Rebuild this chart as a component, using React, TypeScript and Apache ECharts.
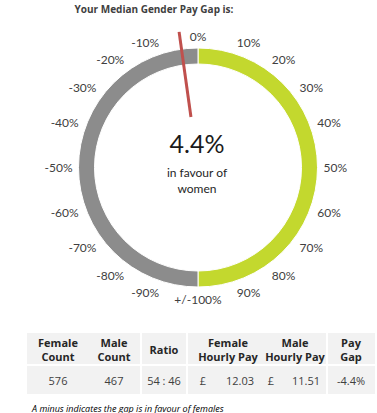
import React, { useEffect, useRef } from "react";
import * as echarts from "echarts";

// ---- data ----
const titleText = "Your Median Gender Pay Gap is:";
const payGap = -4.4; // percent, negative = in favour of women
const gaugeSegments = [
  { name: "positive", value: 100, color: "#c3d82e" },
  { name: "negative", value: 100, color: "#8c8c8c" },
];
const tableHeaders = ["Female\nCount", "Male\nCount", "Ratio", "Female\nHourly Pay", "Male\nHourly Pay", "Pay\nGap"];
const femaleCount = 576;
const maleCount = 467;
const ratioText = "54 : 46";
const femaleHourlyPay = 12.03;
const maleHourlyPay = 11.51;
const footnote = "A minus indicates the gap is in favour of females";

const CX = 198;
const CY = 167.5;
const R_OUT = 119.5;
const R_IN = 103.5;

function tickLabel(v: number): string {
  if (v === 0) return "0%";
  if (v === 200) return "";
  if (v === 100) return "+/-100%";
  if (v < 100) return v + "%";
  return -(200 - v) + "%";
}

export default function App() {
  const ref = useRef<HTMLDivElement>(null);
  useEffect(() => {
    if (!ref.current) return;
    const chart = echarts.init(ref.current, undefined, { renderer: "svg" });
    const gaugeValue = payGap < 0 ? 200 + payGap : payGap;
    const labelFont = "Lato";
    const tblFont = "Open Sans";

    // table geometry
    const top = 333, headH = 31, rowTop = 366, rowH = 28;
    const blocks = [
      [27, 140],
      [142, 186],
      [188, 326],
      [328, 375],
    ];
    const colCenters = [58, 114, 164, 228, 295, 351];
    const graphics: any[] = [];
    blocks.forEach(([x0, x1]) => {
      graphics.push({ type: "rect", shape: { x: x0, y: top, width: x1 - x0, height: headH }, style: { fill: "#f2f2f2" }, silent: true });
      graphics.push({ type: "rect", shape: { x: x0, y: rowTop, width: x1 - x0, height: rowH }, style: { fill: "#f2f2f2" }, silent: true });
    });
    tableHeaders.forEach((h, i) => {
      graphics.push({
        type: "text",
        x: colCenters[i],
        y: top + headH / 2 + 1,
        style: { text: h, font: `bold 11px "${tblFont}"`, fill: "#262626", align: "center", verticalAlign: "middle", lineHeight: 14 },
        silent: true,
      });
    });
    const dataStyle = (text: string, x: number, align: string) => ({
      type: "text",
      x,
      y: rowTop + rowH / 2,
      style: { text, font: `11px "${tblFont}"`, fill: "#404040", align, verticalAlign: "middle" },
      silent: true,
    });
    graphics.push(dataStyle(String(femaleCount), colCenters[0], "center"));
    graphics.push(dataStyle(String(maleCount), colCenters[1], "center"));
    graphics.push(dataStyle(ratioText, colCenters[2], "center"));
    graphics.push(dataStyle("£", 203, "center"));
    graphics.push(dataStyle(femaleHourlyPay.toFixed(2), 254, "right"));
    graphics.push(dataStyle("£", 271, "center"));
    graphics.push(dataStyle(maleHourlyPay.toFixed(2), 320, "right"));
    graphics.push(dataStyle(payGap.toFixed(1) + "%", colCenters[5], "center"));
    graphics.push({
      type: "text",
      x: 32,
      y: 408,
      style: { text: footnote, font: `italic 9px "${tblFont}"`, fill: "#000", align: "left", verticalAlign: "middle" },
      silent: true,
    });
    // title & centre texts
    graphics.push({
      type: "text",
      x: 154,
      y: 9,
      style: { text: titleText, font: `bold 10px "${tblFont}"`, fill: "#404040", align: "center", verticalAlign: "middle" },
      silent: true,
    });
    graphics.push({
      type: "text",
      x: 197,
      y: 143,
      style: { text: Math.abs(payGap).toFixed(1) + "%", font: `25px "${labelFont}"`, fill: "#1a1a1a", align: "center", verticalAlign: "middle" },
      silent: true,
    });
    graphics.push({
      type: "text",
      x: 197,
      y: 180,
      style: { text: payGap < 0 ? "in favour of\nwomen" : "in favour of\nmen", font: `12px "${labelFont}"`, fill: "#262626", align: "center", verticalAlign: "middle", lineHeight: 16 },
      silent: true,
    });

    chart.setOption({
      animation: false,
      polar: { center: [CX, CY], radius: R_OUT },
      angleAxis: {
        type: "value",
        min: 0,
        max: 200,
        interval: 10,
        startAngle: 90,
        clockwise: true,
        axisLine: { show: false },
        axisTick: { show: false },
        splitLine: { show: false },
        axisLabel: { margin: 6, formatter: tickLabel, color: "#404040", fontSize: 12, fontFamily: labelFont },
      },
      radiusAxis: { show: false, type: "value", min: 0, max: 1 },
      series: [
        { type: "scatter", coordinateSystem: "polar", data: [], silent: true },
        {
          type: "pie",
          center: [CX, CY],
          radius: [R_IN, R_OUT],
          startAngle: 90,
          clockwise: true,
          silent: true,
          label: { show: false },
          labelLine: { show: false },
          itemStyle: { borderColor: "#fff", borderWidth: 1 },
          data: gaugeSegments.map((s) => ({ name: s.name, value: s.value, itemStyle: { color: s.color } })),
        },
        {
          type: "gauge",
          z: 5,
          center: [CX, CY],
          radius: R_OUT,
          startAngle: 90,
          endAngle: -270,
          min: 0,
          max: 200,
          silent: true,
          axisLine: { show: false },
          axisTick: { show: false },
          splitLine: { show: false },
          axisLabel: { show: false },
          detail: { show: false },
          title: { show: false },
          anchor: { show: false },
          pointer: { icon: "rect", width: 3, length: 86, offsetCenter: [0, -51], itemStyle: { color: "#c0504d" } },
          data: [{ value: gaugeValue }],
        },
      ],
      graphic: graphics,
    });
    return () => chart.dispose();
  }, []);
  return <div ref={ref} style={{ position: "absolute", left: 0, top: 0, width: 377, height: 413 }} />;
}
